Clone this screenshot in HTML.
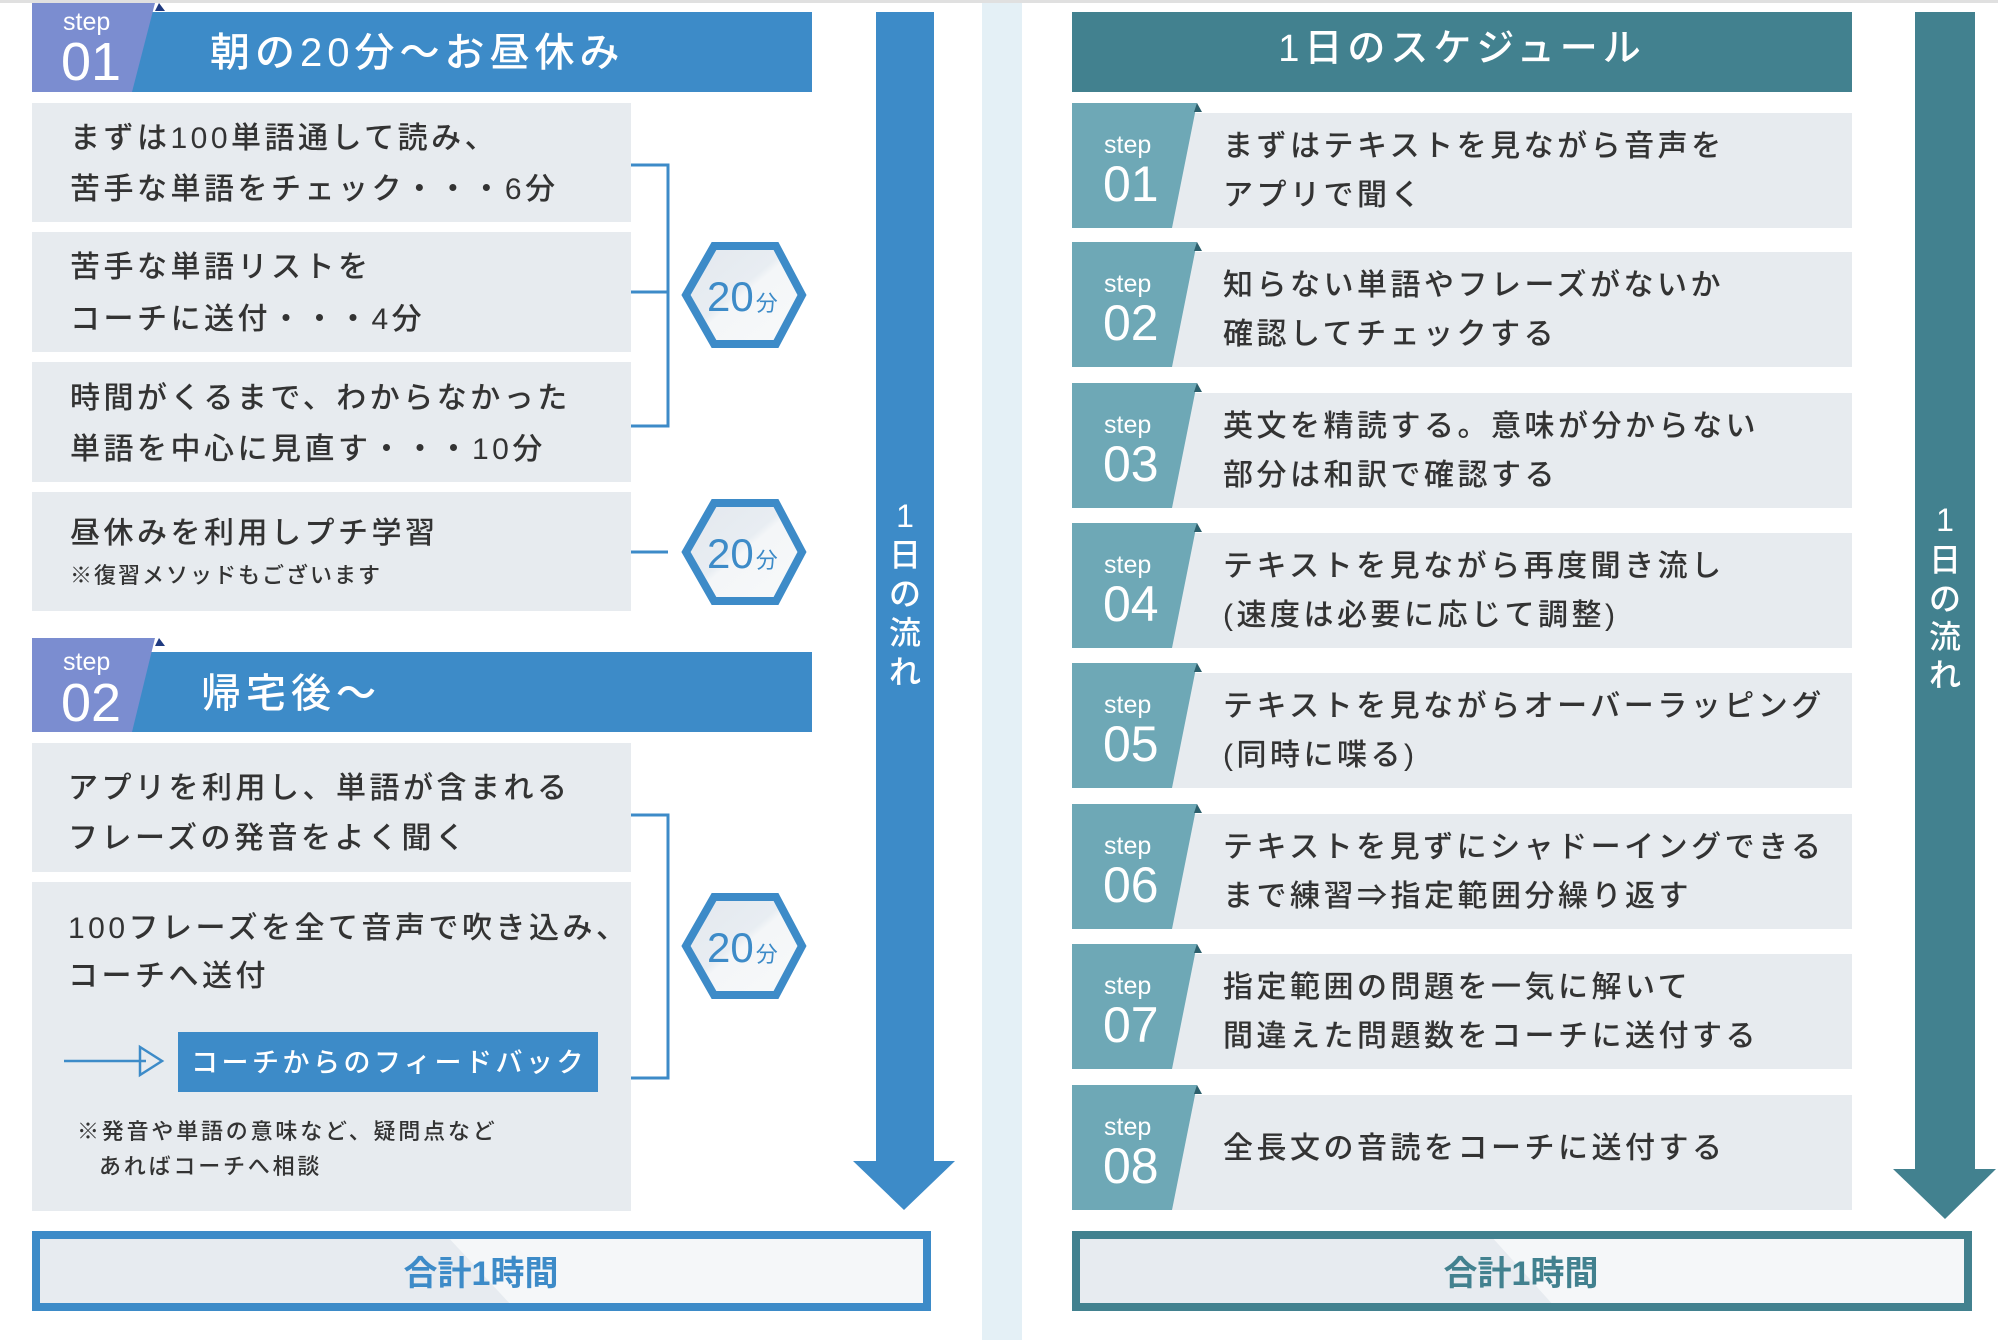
<!DOCTYPE html>
<html><head><meta charset="utf-8"><style>
html,body{margin:0;padding:0;background:#fff;}
svg{display:block;}
.t{font-family:"Liberation Sans","Noto Sans CJK JP",sans-serif;fill:#333;font-size:30px;letter-spacing:3.5px;font-weight:500;}
.w{fill:#fff;}
.s{font-family:"Liberation Sans",sans-serif;fill:#fff;}
</style></head><body>
<svg width="1998" height="1340" viewBox="0 0 1998 1340" xmlns="http://www.w3.org/2000/svg">
<defs>
<linearGradient id="hg" x1="0" y1="0" x2="1" y2="1">
<stop offset="0" stop-color="#e3e8ee"/><stop offset="0.45" stop-color="#e8edf2"/><stop offset="0.5" stop-color="#f4f6f8"/><stop offset="1" stop-color="#f7f9fa"/>
</linearGradient>
</defs>
<rect x="0" y="0" width="1998" height="3" fill="#e0e0e0"/>
<rect x="982" y="3" width="40" height="1337" fill="#e4f0f6"/>

<!-- LEFT header 01 -->
<rect x="32" y="12" width="780" height="80" fill="#3d8bc8"/>
<polygon points="32,3 155,3 132,92 32,92" fill="#7b8dd0"/>
<polygon points="155,11 159,3 165,11" fill="#1f3a80"/>
<text class="s" x="63" y="30" font-size="25">step</text>
<text class="s" x="61" y="80" font-size="54">01</text>
<text class="t w" x="210" y="66" font-size="40" style="font-size:40px;letter-spacing:5px">朝の20分～お昼休み</text>

<rect x="32" y="103" width="599" height="119" fill="#e7ebef"/>
<rect x="32" y="232" width="599" height="120" fill="#e7ebef"/>
<rect x="32" y="362" width="599" height="120" fill="#e7ebef"/>
<rect x="32" y="492" width="599" height="119" fill="#e7ebef"/>
<text class="t" x="70" y="148">まずは100単語通して読み、</text>
<text class="t" x="70" y="199">苦手な単語をチェック・・・6分</text>
<text class="t" x="70" y="277">苦手な単語リストを</text>
<text class="t" x="70" y="329">コーチに送付・・・4分</text>
<text class="t" x="70" y="408">時間がくるまで、わからなかった</text>
<text class="t" x="70" y="459">単語を中心に見直す・・・10分</text>
<text class="t" x="70" y="543">昼休みを利用しプチ学習</text>
<text class="t" x="70" y="583" style="font-size:22px;letter-spacing:2px">※復習メソッドもございます</text>

<path d="M631,165 H668 V426 H631 M631,292 H668 M631,552 H668" stroke="#3d8bc8" stroke-width="3" fill="none"/>
<g id="hex">
<polygon points="686,295 714,246 776,246 802,295 776,344 714,344" fill="url(#hg)" stroke="#3d8bc8" stroke-width="8"/>
<text x="707" y="311" font-family="Liberation Sans,sans-serif" font-size="42" fill="#3d8bc8">20<tspan font-family="Noto Sans CJK JP,sans-serif" font-size="22" dx="2">分</tspan></text>
</g>
<use href="#hex" transform="translate(0,257)"/>
<use href="#hex" transform="translate(0,651)"/>

<!-- LEFT header 02 -->
<rect x="32" y="652" width="780" height="80" fill="#3d8bc8"/>
<polygon points="32,638 155,638 132,732 32,732" fill="#7b8dd0"/>
<polygon points="155,646 159,638 165,646" fill="#1f3a80"/>
<text class="s" x="63" y="670" font-size="25">step</text>
<text class="s" x="61" y="721" font-size="54">02</text>
<text class="t w" x="201" y="707" style="font-size:40px;letter-spacing:5px">帰宅後～</text>

<rect x="32" y="743" width="599" height="129" fill="#e7ebef"/>
<rect x="32" y="882" width="599" height="329" fill="#e7ebef"/>
<text class="t" x="68" y="798">アプリを利用し、単語が含まれる</text>
<text class="t" x="68" y="848">フレーズの発音をよく聞く</text>
<text class="t" x="68" y="938">100フレーズを全て音声で吹き込み、</text>
<text class="t" x="68" y="986">コーチへ送付</text>
<path d="M64,1061 H146" stroke="#3d8bc8" stroke-width="2.5"/>
<polygon points="140,1047 162,1061 140,1075" fill="none" stroke="#3d8bc8" stroke-width="2.5"/>
<rect x="178" y="1032" width="420" height="60" fill="#3d8bc8"/>
<text class="t w" x="191" y="1072" style="font-size:27px;letter-spacing:3.5px">コーチからのフィードバック</text>
<text class="t" x="77" y="1139" style="font-size:22px;letter-spacing:2.8px">※発音や単語の意味など、疑問点など</text>
<text class="t" x="99" y="1174" style="font-size:22px;letter-spacing:2.8px">あればコーチへ相談</text>
<path d="M631,815 H668 V1078 H631" stroke="#3d8bc8" stroke-width="3" fill="none"/>

<!-- left arrow -->
<rect x="876" y="12" width="58" height="1150" fill="#3d8bc8"/>
<polygon points="853,1161 955,1161 904,1210" fill="#3d8bc8"/>
<g font-family="Liberation Sans,Noto Sans CJK JP,sans-serif" font-size="32" fill="#fff" text-anchor="middle" font-weight="500">
<text x="905" y="527">1</text><text x="905" y="566">日</text><text x="905" y="605">の</text><text x="905" y="644">流</text><text x="905" y="683">れ</text>
</g>

<!-- left total -->
<rect x="36" y="1235" width="891" height="72" fill="#e7ebf0"/>
<polygon points="446,1235 927,1235 927,1307 513,1307" fill="#f5f7f9"/>
<rect x="36" y="1235" width="891" height="72" fill="none" stroke="#3d8bc8" stroke-width="8"/>
<text x="481" y="1285" text-anchor="middle" font-family="Liberation Sans,Noto Sans CJK JP,sans-serif" font-size="34" font-weight="bold" fill="#3d8bc8">合計1時間</text>

<!-- RIGHT -->
<rect x="1072" y="12" width="780" height="80" fill="#42818f"/>
<text class="t w" x="1462" y="61" text-anchor="middle" style="font-size:38px;letter-spacing:5px">1日のスケジュール</text>

<g id="r">
</g>
<!-- rows -->
<g>
<rect x="1150" y="113" width="702" height="115" fill="#e7ebef"/><polygon points="1072,103 1197,103 1172,228 1072,228" fill="#6ea8b6"/><polygon points="1194,112 1197,103 1202,112" fill="#2c5f6c"/>
<text class="s" x="1104" y="153" font-size="25">step</text><text class="s" x="1103" y="201" font-size="50">01</text>
<text class="t" x="1223" y="156">まずはテキストを見ながら音声を</text><text class="t" x="1223" y="205">アプリで聞く</text>
</g>
<g transform="translate(0,139)">
<rect x="1150" y="113" width="702" height="115" fill="#e7ebef"/><polygon points="1072,103 1197,103 1172,228 1072,228" fill="#6ea8b6"/><polygon points="1194,112 1197,103 1202,112" fill="#2c5f6c"/>
<text class="s" x="1104" y="153" font-size="25">step</text><text class="s" x="1103" y="201" font-size="50">02</text>
<text class="t" x="1223" y="156">知らない単語やフレーズがないか</text><text class="t" x="1223" y="205">確認してチェックする</text>
</g>
<g transform="translate(0,280)">
<rect x="1150" y="113" width="702" height="115" fill="#e7ebef"/><polygon points="1072,103 1197,103 1172,228 1072,228" fill="#6ea8b6"/><polygon points="1194,112 1197,103 1202,112" fill="#2c5f6c"/>
<text class="s" x="1104" y="153" font-size="25">step</text><text class="s" x="1103" y="201" font-size="50">03</text>
<text class="t" x="1223" y="156">英文を精読する。意味が分からない</text><text class="t" x="1223" y="205">部分は和訳で確認する</text>
</g>
<g transform="translate(0,420)">
<rect x="1150" y="113" width="702" height="115" fill="#e7ebef"/><polygon points="1072,103 1197,103 1172,228 1072,228" fill="#6ea8b6"/><polygon points="1194,112 1197,103 1202,112" fill="#2c5f6c"/>
<text class="s" x="1104" y="153" font-size="25">step</text><text class="s" x="1103" y="201" font-size="50">04</text>
<text class="t" x="1223" y="156">テキストを見ながら再度聞き流し</text><text class="t" x="1223" y="205">(速度は必要に応じて調整)</text>
</g>
<g transform="translate(0,560)">
<rect x="1150" y="113" width="702" height="115" fill="#e7ebef"/><polygon points="1072,103 1197,103 1172,228 1072,228" fill="#6ea8b6"/><polygon points="1194,112 1197,103 1202,112" fill="#2c5f6c"/>
<text class="s" x="1104" y="153" font-size="25">step</text><text class="s" x="1103" y="201" font-size="50">05</text>
<text class="t" x="1223" y="156">テキストを見ながらオーバーラッピング</text><text class="t" x="1223" y="205">(同時に喋る)</text>
</g>
<g transform="translate(0,701)">
<rect x="1150" y="113" width="702" height="115" fill="#e7ebef"/><polygon points="1072,103 1197,103 1172,228 1072,228" fill="#6ea8b6"/><polygon points="1194,112 1197,103 1202,112" fill="#2c5f6c"/>
<text class="s" x="1104" y="153" font-size="25">step</text><text class="s" x="1103" y="201" font-size="50">06</text>
<text class="t" x="1223" y="156">テキストを見ずにシャドーイングできる</text><text class="t" x="1223" y="205">まで練習⇒指定範囲分繰り返す</text>
</g>
<g transform="translate(0,841)">
<rect x="1150" y="113" width="702" height="115" fill="#e7ebef"/><polygon points="1072,103 1197,103 1172,228 1072,228" fill="#6ea8b6"/><polygon points="1194,112 1197,103 1202,112" fill="#2c5f6c"/>
<text class="s" x="1104" y="153" font-size="25">step</text><text class="s" x="1103" y="201" font-size="50">07</text>
<text class="t" x="1223" y="156">指定範囲の問題を一気に解いて</text><text class="t" x="1223" y="205">間違えた問題数をコーチに送付する</text>
</g>
<g transform="translate(0,982)">
<rect x="1150" y="113" width="702" height="115" fill="#e7ebef"/><polygon points="1072,103 1197,103 1172,228 1072,228" fill="#6ea8b6"/><polygon points="1194,112 1197,103 1202,112" fill="#2c5f6c"/>
<text class="s" x="1104" y="153" font-size="25">step</text><text class="s" x="1103" y="201" font-size="50">08</text>
<text class="t" x="1223" y="176">全長文の音読をコーチに送付する</text>
</g>

<!-- right arrow -->
<rect x="1915" y="12" width="60" height="1158" fill="#42818f"/>
<polygon points="1893,1169 1996,1169 1945,1219" fill="#42818f"/>
<g font-family="Liberation Sans,Noto Sans CJK JP,sans-serif" font-size="32" fill="#fff" text-anchor="middle" font-weight="500">
<text x="1945" y="531">1</text><text x="1945" y="571">日</text><text x="1945" y="610">の</text><text x="1945" y="648">流</text><text x="1945" y="686">れ</text>
</g>

<!-- right total -->
<rect x="1076" y="1235" width="892" height="72" fill="#e7ebf0"/>
<polygon points="1490,1235 1968,1235 1968,1307 1555,1307" fill="#f5f7f9"/>
<rect x="1076" y="1235" width="892" height="72" fill="none" stroke="#42818f" stroke-width="8"/>
<text x="1521" y="1285" text-anchor="middle" font-family="Liberation Sans,Noto Sans CJK JP,sans-serif" font-size="34" font-weight="bold" fill="#42818f">合計1時間</text>
</svg>
</body></html>
